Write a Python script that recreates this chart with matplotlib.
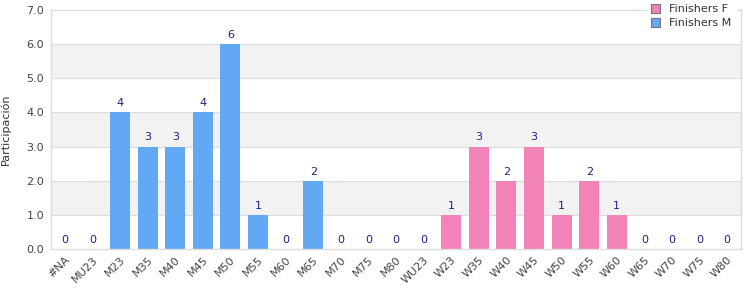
import matplotlib.pyplot as plt
import numpy as np
from matplotlib.patches import Patch

categories = ["#NA", "MU23", "M23", "M35", "M40", "M45", "M50", "M55", "M60", "M65",
              "M70", "M75", "M80", "WU23", "W23", "W35", "W40", "W45", "W50", "W55",
              "W60", "W65", "W70", "W75", "W80"]
finishers_m = [0, 0, 4, 3, 3, 4, 6, 1, 0, 2, 0, 0, 0, 0,
               0, 0, 0, 0, 0, 0, 0, 0, 0, 0, 0]
finishers_f = [0, 0, 0, 0, 0, 0, 0, 0, 0, 0, 0, 0, 0, 0,
               1, 3, 2, 3, 1, 2, 1, 0, 0, 0, 0]

blue = "#62a8f3"
pink = "#f283b8"
grid_c = "#dddddd"

fig = plt.figure(figsize=(7.5, 3), dpi=100)
ax = fig.add_axes([0.068, 0.17, 0.92, 0.797])

x = np.arange(len(categories))
m = np.array(finishers_m)
f = np.array(finishers_f)

# alternating background bands
for lo in range(0, 7):
    if lo % 2 == 1:
        ax.axhspan(lo, lo + 1, color="#f2f2f2", zorder=0, lw=0)
for lo in range(1, 7):
    ax.axhline(lo, color=grid_c, lw=0.8, zorder=0.5)

ax.bar(x, m, width=0.72, color=blue, zorder=2)
ax.bar(x, f, width=0.72, bottom=m, color=pink, zorder=2)

totals = m + f
for xi, t in zip(x, totals):
    ax.text(xi, t + 0.12, str(t), ha="center", va="bottom", fontsize=8, color="#1f1f8f")

ax.set_xlim(-0.5, len(categories) - 0.5)
ax.set_ylim(0, 7)
ax.set_yticks(range(0, 8))
ax.set_yticklabels([f"{v:.1f}" for v in range(0, 8)])
ax.set_xticks(x)
ax.set_xticklabels(categories, rotation=45, ha="right", rotation_mode="anchor")
ax.tick_params(axis="both", length=0, labelsize=8, colors="#444444")
ax.tick_params(axis="x", pad=4)
ax.tick_params(axis="y", pad=5)
for s in ax.spines.values():
    s.set_color(grid_c)
    s.set_linewidth(1)
ax.set_ylabel("Participación", fontsize=8, color="#333333", labelpad=11)

handles = [Patch(facecolor=pink, edgecolor="#777777", lw=0.8),
           Patch(facecolor=blue, edgecolor="#777777", lw=0.8)]
leg = fig.legend(handles, ["Finishers F", "Finishers M"], loc="upper left",
                 bbox_to_anchor=(0.855, 1.02), fontsize=8, frameon=True,
                 handlelength=0.8, handleheight=0.8, handletextpad=0.8,
                 labelspacing=0.35, borderpad=0.4, fancybox=False)
leg.get_frame().set_edgecolor("white")
leg.get_frame().set_facecolor("white")
leg.get_frame().set_alpha(1)
for t in leg.get_texts():
    t.set_color("#333333")

fig.savefig("out.png", dpi=100)
